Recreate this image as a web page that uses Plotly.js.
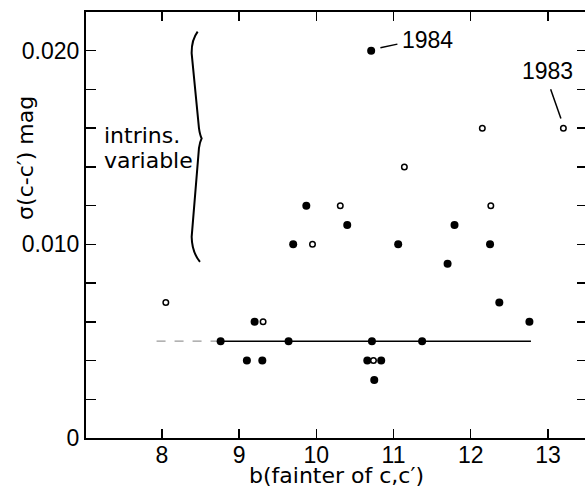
<!DOCTYPE html>
<html>
<head>
<meta charset="utf-8">
<script src="https://cdn.plot.ly/plotly-3.0.1.min.js"></script>
<style>
html,body{margin:0;padding:0;overflow:hidden;background:#fff;}
#chart{width:590px;height:492px;}
</style>
</head>
<body>
<div id="chart"></div>
<script>
// Filled circles
const filledX = [8.76, 9.10, 9.20, 9.30, 9.64, 9.70, 9.87, 10.40, 10.66, 10.71, 10.72, 10.75, 10.84, 11.06, 11.37, 11.70, 11.79, 12.25, 12.37, 12.76];
const filledY = [0.005, 0.004, 0.006, 0.004, 0.005, 0.010, 0.012, 0.011, 0.004, 0.020, 0.005, 0.003, 0.004, 0.010, 0.005, 0.009, 0.011, 0.010, 0.007, 0.006];
// Open circles
const openX = [8.05, 9.31, 9.95, 10.31, 10.74, 11.14, 12.15, 12.26, 13.20];
const openY = [0.007, 0.006, 0.010, 0.012, 0.004, 0.014, 0.016, 0.012, 0.016];
// Horizontal reference line
const fitFaintX = [7.93, 8.76];
const fitFaintY = [0.005, 0.005];
const fitX = [8.76, 12.78];
const fitY = [0.005, 0.005];
// Ticks
const xTickVals = [8, 9, 10, 11, 12, 13];
const xTickText = ['8', '9', '10', '11', '12', '13'];
const yTickVals = [0, 0.002, 0.004, 0.006, 0.008, 0.010, 0.012, 0.014, 0.016, 0.018, 0.020];
const yTickText = ['0', '', '', '', '', '0.010', '', '', '', '', '0.020'];

const digitFont = {family: 'Liberation Sans, Arial, sans-serif', size: 23, color: '#000'};
const wordFont = {family: 'DejaVu Sans, sans-serif', size: 22, color: '#000'};

const traces = [
  {x: fitFaintX, y: fitFaintY, mode: 'lines', line: {color: '#999', width: 1.3, dash: 'dash'}, hoverinfo: 'skip', showlegend: false},
  {x: fitX, y: fitY, mode: 'lines', line: {color: '#000', width: 1.6}, hoverinfo: 'skip', showlegend: false},
  {x: filledX, y: filledY, mode: 'markers', marker: {symbol: 'circle', size: 8, color: '#000'}, showlegend: false},
  {x: openX, y: openY, mode: 'markers', marker: {symbol: 'circle', size: 5.5, color: '#fff', line: {color: '#000', width: 1.5}}, showlegend: false}
];

const bracePath = 'M 8.4624,0.020982 Q 8.3821,0.020553 8.3847,0.019866 L 8.4793,0.016005 Q 8.4922,0.015643 8.5142,0.015473 Q 8.4922,0.015307 8.4793,0.014972 L 8.3847,0.010388 Q 8.3886,0.009597 8.4922,0.009096';

const layout = {
  width: 590, height: 492,
  margin: {l: 86, r: 3, t: 12, b: 54},
  paper_bgcolor: '#fff', plot_bgcolor: '#fff',
  showlegend: false,
  xaxis: {
    range: [7.016, 13.506], tickvals: xTickVals, ticktext: xTickText,
    ticks: 'inside', ticklen: 9, tickwidth: 1.5, tickcolor: '#000',
    showline: true, linecolor: '#000', linewidth: 2, mirror: 'ticks',
    showgrid: false, zeroline: false, tickfont: digitFont,
    ticklabelstandoff: -5,
    title: {text: ''}
  },
  yaxis: {
    range: [0, 0.022], tickvals: yTickVals, ticktext: yTickText,
    ticks: 'inside', ticklen: 10, tickwidth: 1.5, tickcolor: '#000',
    showline: true, linecolor: '#000', linewidth: 2, mirror: 'ticks',
    showgrid: false, zeroline: false, tickfont: digitFont,
    title: {text: ''}
  },
  shapes: [
    {type: 'path', xref: 'x', yref: 'y', path: bracePath, line: {color: '#000', width: 2}},
    {type: 'line', xref: 'x', yref: 'y', x0: 10.83, y0: 0.02015, x1: 11.05, y1: 0.02034, line: {color: '#000', width: 1.5}},
    {type: 'line', xref: 'x', yref: 'y', x0: 13.035, y0: 0.018005, x1: 13.168, y1: 0.0165, line: {color: '#000', width: 1.5}}
  ],
  annotations: [
    {text: 'b(fainter of c,c′)', xref: 'paper', yref: 'paper', x: 0.5, y: -0.087, xanchor: 'center', yanchor: 'middle', showarrow: false, font: wordFont},
    {text: 'σ(c-c′) mag', xref: 'paper', yref: 'y', x: -0.122, y: 0.01446, textangle: -90, showarrow: false, font: wordFont, xanchor: 'center', yanchor: 'middle'},
    {text: 'intrins.', xref: 'x', yref: 'y', x: 7.223, y: 0.01564, xanchor: 'left', yanchor: 'middle', showarrow: false, font: wordFont},
    {text: 'variable', xref: 'x', yref: 'y', x: 7.223, y: 0.01435, xanchor: 'left', yanchor: 'middle', showarrow: false, font: wordFont},
    {text: '1984', xref: 'x', yref: 'y', x: 11.439, y: 0.02053, xanchor: 'center', yanchor: 'middle', showarrow: false, font: digitFont},
    {text: '1983', xref: 'x', yref: 'y', x: 12.99, y: 0.01896, xanchor: 'center', yanchor: 'middle', showarrow: false, font: digitFont}
  ]
};

Plotly.newPlot('chart', traces, layout, {staticPlot: true, displayModeBar: false});
</script>
</body>
</html>
